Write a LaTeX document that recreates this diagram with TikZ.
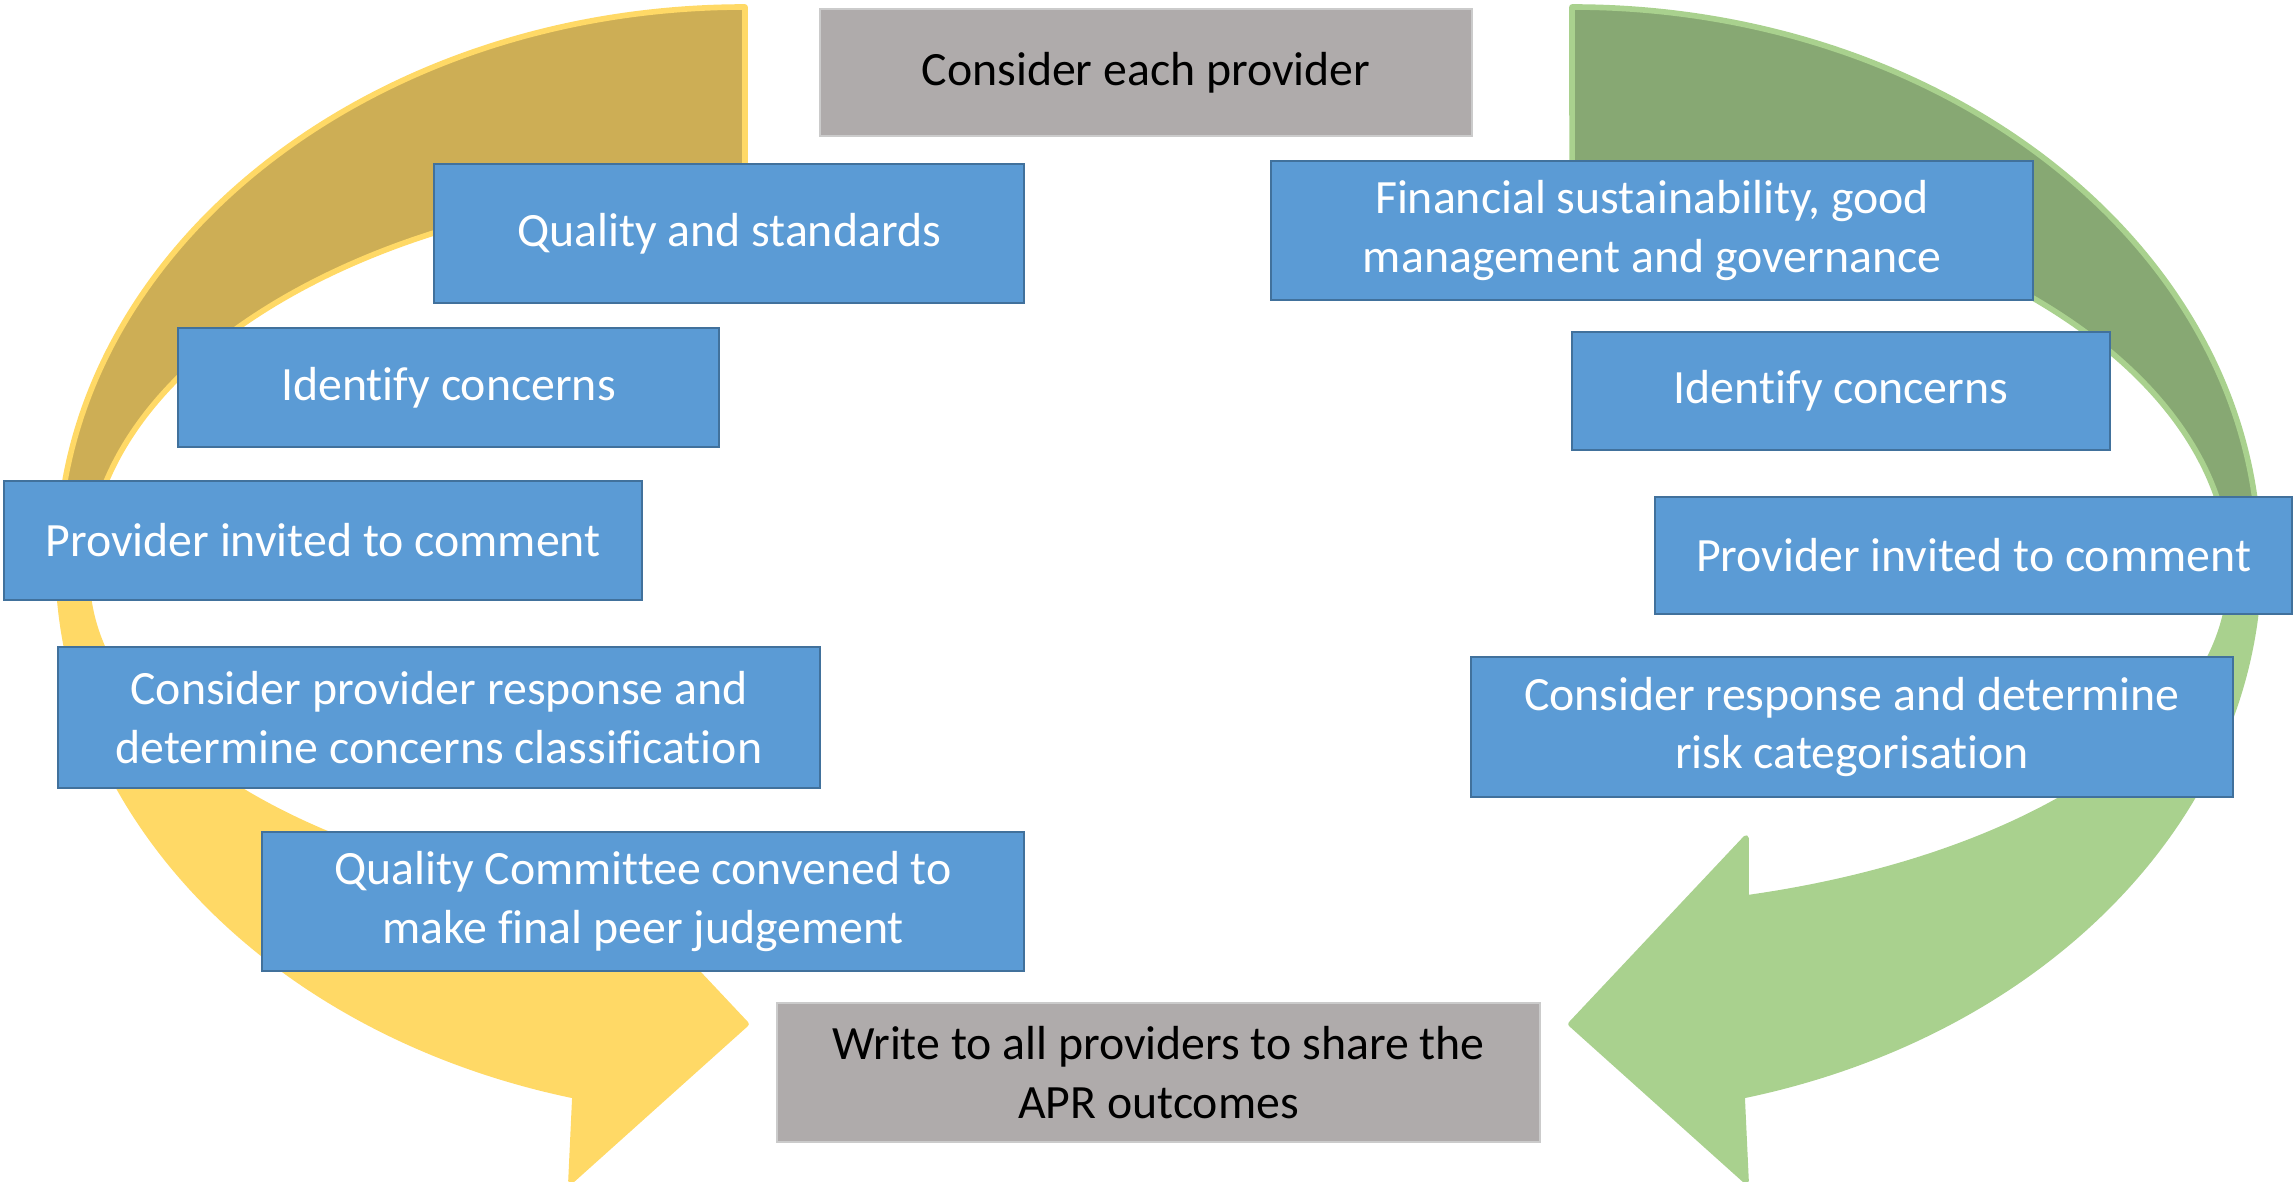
\documentclass[tikz,border=0pt]{standalone}
\usepackage{fontspec}
\setmainfont{Carlito}[Ligatures=NoCommon]
\usepackage{tikz}
\usetikzlibrary{calc}
\usetikzlibrary{positioning}

\definecolor{boxblue}{HTML}{5B9BD5}
\definecolor{boxedge}{HTML}{41719C}
\definecolor{boxgrey}{HTML}{AFABAB}
\definecolor{greyedge}{HTML}{CBCBCB}
\definecolor{darkgold}{HTML}{CDAE55}
\definecolor{lightgold}{HTML}{FFD966}
\definecolor{darkgreen}{HTML}{87A873}
\definecolor{lightgreen}{HTML}{A9D18E}

%% outline of the curved arrow on the left, the right one is its mirror image
\newcommand{\looppath}{(7.45,-0.07)
  arc[start angle=90, end angle=255.67, x radius=6.87, y radius=5.53]
  -- (5.71,-11.81) -- (7.46,-10.24) -- (5.71,-8.38) -- (5.71,-8.98)
  arc[start angle=254.67, end angle=180, x radius=6.58, y radius=3.35]
  arc[start angle=180, end angle=90, x radius=6.58, y radius=3.88]
  -- cycle}

%% #1 = colour of the upper part, #2 = colour of the lower part and rim
\newcommand{\looparrow}[2]{%
  \fill[#2] \looppath;
  \begin{scope}
    \clip (0,-5.4) rectangle (12,0.5);
    \fill[#1] \looppath;
  \end{scope}
  \draw[#2, line width=1.6pt, line join=round] \looppath;
}

\begin{document}
\begin{tikzpicture}[
    stage/.style={
      rectangle,
      fill=boxblue,
      draw=boxedge,
      line width=0.8pt,
      text=white,
      align=center,
      inner sep=0pt,
      font=\fontsize{13.6}{16.6}\selectfont
    },
    outcome/.style={
      stage,
      fill=boxgrey,
      draw=greyedge,
      text=black
    }
]
\useasboundingbox (0,0) rectangle (22.93,-11.81);

%% Arrows

\looparrow{darkgold}{lightgold}
\begin{scope}[xshift=23.17cm, xscale=-1]
  \looparrow{darkgreen}{lightgreen}
\end{scope}

%% Start and end

\node [outcome, minimum width=6.52cm, minimum height=1.27cm] (each) at (11.46,-0.725) {Consider each provider};
\node [outcome, minimum width=7.63cm, minimum height=1.39cm] (write) at (11.585,-10.725) {Write to all providers to share the\\APR outcomes};

%% Quality branch

\node [stage, minimum width=5.90cm, minimum height=1.39cm] (quality) at (7.29,-2.335) {Quality and standards};
\node [stage, minimum width=5.41cm, minimum height=1.19cm] (identL) at (4.485,-3.875) {Identify concerns};
\node [stage, minimum width=6.38cm, minimum height=1.19cm] (inviteL) at (3.23,-5.405) {Provider invited to comment};
\node [stage, minimum width=7.62cm, minimum height=1.41cm] (respL) at (4.39,-7.175) {Consider provider response and\\determine concerns classification};
\node [stage, minimum width=7.62cm, minimum height=1.39cm] (committee) at (6.43,-9.015) {Quality Committee convened to\\make final peer judgement};

%% Financial branch

\node [stage, minimum width=7.62cm, minimum height=1.39cm] (finance) at (16.52,-2.305) {Financial sustainability, good\\management and governance};
\node [stage, minimum width=5.38cm, minimum height=1.18cm] (identR) at (18.41,-3.91) {Identify concerns};
\node [stage, minimum width=6.37cm, minimum height=1.17cm] (inviteR) at (19.735,-5.555) {Provider invited to comment};
\node [stage, minimum width=7.62cm, minimum height=1.40cm] (respR) at (18.52,-7.27) {Consider response and determine\\risk categorisation};

\end{tikzpicture}
\end{document}
